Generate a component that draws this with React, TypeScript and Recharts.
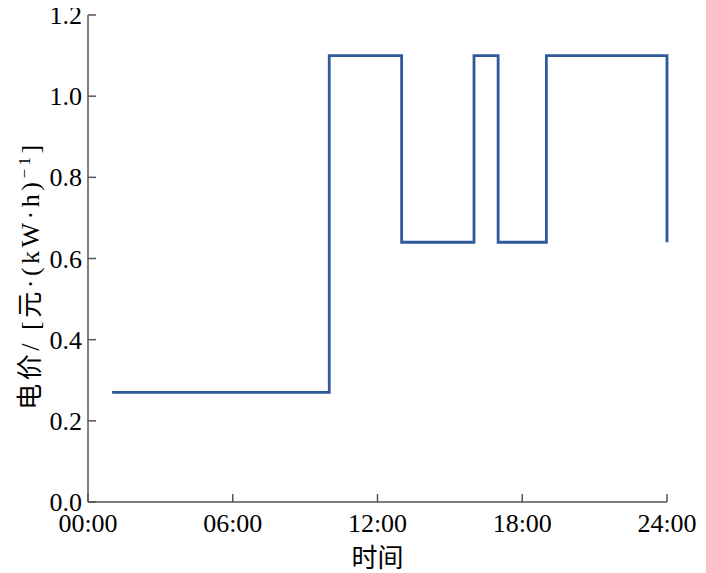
import { LineChart, Line, XAxis, YAxis } from "recharts";

// 分时电价 (hour -> price), step after each point
const hours = [1, 10, 13, 16, 17, 19, 24];
const prices = [0.27, 1.1, 0.64, 1.1, 0.64, 1.1, 0.64];

const xTicks = [0, 6, 12, 18, 24];
const yTicks = [0, 0.2, 0.4, 0.6, 0.8, 1.0, 1.2];

const xTitle = "时间";
const yTitle = "电价/ [元·(kW·h)";
const yTitleSup = "−1";
const yTitleEnd = "]";

const data = hours.map((h, i) => ({ hour: h, price: prices[i] }));

const FONT = "Liberation Serif, Noto Sans CJK SC, serif";
const AXIS = "#555555";

function XTick(props: any) {
  const { x, y, payload } = props;
  return (
    <text x={x} y={y} dy={22} textAnchor="middle" fontFamily={FONT} fontSize={26} fill="#000">
      {`${String(payload.value).padStart(2, "0")}:00`}
    </text>
  );
}

function YTick(props: any) {
  const { x, y, payload } = props;
  return (
    <text x={x} y={y} dy={9} textAnchor="end" fontFamily={FONT} fontSize={26} fill="#000">
      {Number(payload.value).toFixed(1)}
    </text>
  );
}

function YTitle(props: any) {
  const vb = props.viewBox || {};
  const cx = 22;
  const cy = vb.y + vb.height / 2 + 17;
  return (
    <text
      x={cx}
      y={cy}
      transform={`rotate(-90, ${cx}, ${cy})`}
      textAnchor="middle"
      dy={9}
      fontFamily={FONT}
      letterSpacing={3.5}
      fontSize={26}
      fill="#000"
    >
      {yTitle}
      <tspan dy={-9} fontSize={17}>{yTitleSup}</tspan>
      <tspan dy={9}>{yTitleEnd}</tspan>
    </text>
  );
}

function XTitle(props: any) {
  const vb = props.viewBox || {};
  return (
    <text
      x={vb.x + vb.width / 2}
      y={vb.y + 65}
      textAnchor="middle"
      fontFamily={FONT}
      fontSize={26}
      fill="#000"
    >
      {xTitle}
    </text>
  );
}

export default function App() {
  return (
    <div style={{ width: 698, height: 565 }}>
      <LineChart width={698} height={565} data={data} margin={{ top: 7, right: 39, left: 0, bottom: 0 }}>
        <XAxis
          dataKey="hour"
          type="number"
          domain={[0, 24]}
          ticks={xTicks}
          height={71}
          stroke={AXIS}
          strokeWidth={1.5}
          tickSize={-8}
          tickMargin={16}
          tick={<XTick />}
          interval={0}
          label={<XTitle />}
        />
        <YAxis
          type="number"
          domain={[0, 1.2]}
          ticks={yTicks}
          width={80}
          stroke={AXIS}
          strokeWidth={1.5}
          tickSize={-8}
          tickMargin={14}
          tick={<YTick />}
          interval={0}
          label={<YTitle />}
        />
        <Line
          type="stepAfter"
          dataKey="price"
          stroke="#2f5a9a"
          strokeWidth={2.8}
          dot={false}
          isAnimationActive={false}
        />
      </LineChart>
    </div>
  );
}
